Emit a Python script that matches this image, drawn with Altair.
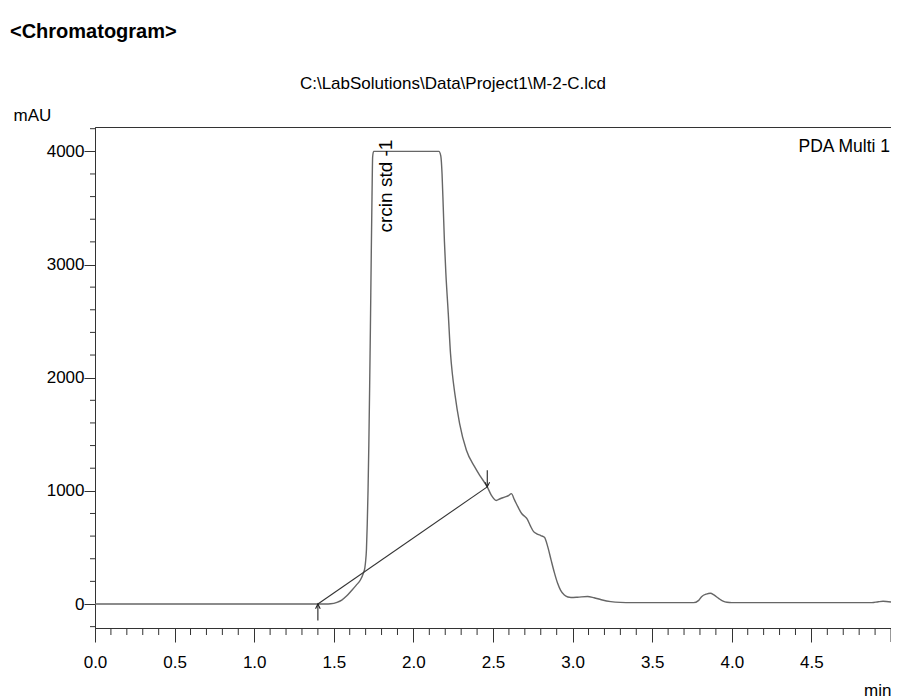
import altair as alt
import pandas as pd

# ---- chromatogram trace (min, mAU) ----
time_min = [0.00, 1.45, 1.48, 1.52, 1.55, 1.58, 1.615, 1.64, 1.667, 1.685, 1.695,
            1.70, 1.705, 1.71, 1.715, 1.72, 1.725, 1.73, 1.735, 1.74, 1.744, 1.75,
            2.16, 2.172, 2.18, 2.1875, 2.195, 2.204, 2.219, 2.233, 2.245, 2.26, 2.29,
            2.333, 2.385, 2.42, 2.464, 2.49, 2.52, 2.545, 2.573, 2.60, 2.615, 2.635,
            2.656, 2.68, 2.698, 2.715, 2.735, 2.755, 2.775, 2.80, 2.823, 2.845, 2.865,
            2.885, 2.906, 2.925, 2.948, 2.97, 2.99, 3.03, 3.094, 3.135, 3.18, 3.24,
            3.30, 3.37, 3.76, 3.79, 3.81, 3.84, 3.865, 3.89, 3.917, 3.945, 3.97, 4.00,
            4.88, 4.92, 4.95, 5.00]
signal_mau = [0, 0, 2, 15, 35, 70, 124, 165, 212, 270, 320,
              380, 480, 700, 1000, 1400, 1900, 2450, 3050, 3600, 3950, 4000,
              4000, 3960, 3800, 3507, 3200, 2920, 2568, 2215, 2030, 1862, 1597,
              1359, 1212, 1130, 1035, 960, 915, 930, 945, 960, 975, 920,
              860, 800, 775, 750, 690, 640, 620, 605, 590, 500, 388,
              280, 183, 120, 79, 62, 58, 60, 66, 55, 38, 21,
              14, 12, 12, 30, 65, 88, 95, 78, 50, 25, 15, 12,
              12, 20, 24, 18]

# ---- integration baseline and peak markers ----
base_x = [1.40]
base_y = [0]
base_x2 = [2.464]
base_y2 = [1035]
start_marker_t = [1.40]
start_marker_low = [-145]
start_marker_high = [0]
end_marker_t = [2.464]
end_marker_high = [1183]
end_marker_low = [1035]

peak_label = ["crcin std -1"]
peak_label_t = [1.825]
peak_label_v = [3283]

# ---- axis ticks ----
x_major = [0.0, 0.5, 1.0, 1.5, 2.0, 2.5, 3.0, 3.5, 4.0, 4.5]
x_minor = [0.1, 0.2, 0.3, 0.4, 0.6, 0.7, 0.8, 0.9, 1.1, 1.2, 1.3, 1.4, 1.6, 1.7,
           1.8, 1.9, 2.1, 2.2, 2.3, 2.4, 2.6, 2.7, 2.8, 2.9, 3.1, 3.2, 3.3, 3.4,
           3.6, 3.7, 3.8, 3.9, 4.1, 4.2, 4.3, 4.4, 4.6, 4.7, 4.8, 4.9]
x_end_tick = [5.0]
y_major = [0, 1000, 2000, 3000, 4000]
y_minor = [-200, 200, 400, 600, 800, 1200, 1400, 1600, 1800, 2200, 2400, 2600,
           2800, 3200, 3400, 3600, 3800, 4200]

FONT = "Liberation Sans Narrow, Arial Narrow, Liberation Sans, Arial, sans-serif"
W, H = 796, 501
TICK = "#333333"

x_scale = alt.Scale(domain=[0, 5.0], nice=False, zero=False)
y_scale = alt.Scale(domain=[-212, 4215], nice=False, zero=False)

x_axis = alt.Axis(
    values=x_major, format=".1f", tickSize=14, tickColor=TICK, domainColor=TICK,
    labelPadding=25, labelBaseline="alphabetic", labelFontSize=17, labelFont=FONT,
    labelColor="black", labelOverlap=False, labelFlush=False, grid=False,
    title="min", titleX=W, titleY=67, titleAlign="right",
    titleBaseline="alphabetic", titleFontWeight="normal", titleFontSize=17,
    titleFont=FONT, titleColor="black",
)
y_axis = alt.Axis(
    values=y_major, format="d", tickSize=11, tickColor=TICK, domainColor=TICK,
    labelPadding=0, labelFontSize=17, labelFont=FONT, labelColor="black",
    labelOverlap=False, labelFlush=False, grid=False,
    title="mAU", titleAngle=0, titleX=-82, titleY=-7, titleAlign="left",
    titleBaseline="alphabetic", titleFontWeight="normal", titleFontSize=17,
    titleFont=FONT, titleColor="black",
)


def X(field):
    return alt.X(field, type="quantitative", scale=x_scale, axis=x_axis)


def Y(field):
    return alt.Y(field, type="quantitative", scale=y_scale, axis=y_axis)


trace_df = pd.DataFrame({"t": time_min, "v": signal_mau})
trace = alt.Chart(trace_df).mark_line(
    color="#666666", strokeWidth=1.4, interpolate="monotone"
).encode(x=X("t"), y=Y("v"))

# minor ticks drawn as short rules through the shared scales
xminor_df = pd.DataFrame({"t": x_minor})
x_minor_ticks = alt.Chart(xminor_df).mark_rule(color=TICK, strokeWidth=1).encode(
    x=X("t"), y=alt.value(H), y2=alt.value(H + 7),
)
xend_df = pd.DataFrame({"t": x_end_tick})
x_end_ticks = alt.Chart(xend_df).mark_rule(color=TICK, strokeWidth=1).encode(
    x=X("t"), y=alt.value(H), y2=alt.value(H + 14),
)
yminor_df = pd.DataFrame({"v": y_minor})
y_minor_ticks = alt.Chart(yminor_df).mark_rule(color=TICK, strokeWidth=1).encode(
    y=Y("v"), x=alt.value(0), x2=alt.value(-5),
)

base_df = pd.DataFrame({"t": base_x, "v": base_y, "t2": base_x2, "v2": base_y2})
baseline = alt.Chart(base_df).mark_rule(color="#333", strokeWidth=1.1).encode(
    x=X("t"), y=Y("v"), x2="t2:Q", y2="v2:Q",
)

start_df = pd.DataFrame({"t": start_marker_t, "lo": start_marker_low, "hi": start_marker_high})
start_rule = alt.Chart(start_df).mark_rule(color="#222", strokeWidth=1.1).encode(
    x=X("t"), y=Y("lo"), y2="hi:Q",
)
start_head = alt.Chart(start_df).mark_point(
    shape="M-1,2L0,0L1,2", filled=False, color="#222", strokeWidth=1.1, size=22, opacity=1
).encode(x=X("t"), y=Y("hi"))

end_df = pd.DataFrame({"t": end_marker_t, "lo": end_marker_low, "hi": end_marker_high})
end_rule = alt.Chart(end_df).mark_rule(color="#222", strokeWidth=1.1).encode(
    x=X("t"), y=Y("lo"), y2="hi:Q",
)
end_head = alt.Chart(end_df).mark_point(
    shape="M-1,-2L0,0L1,-2", filled=False, color="#222", strokeWidth=1.1, size=22, opacity=1
).encode(x=X("t"), y=Y("lo"))

label_df = pd.DataFrame({"t": peak_label_t, "v": peak_label_v, "txt": peak_label})
peak_text = alt.Chart(label_df).mark_text(
    angle=270, align="left", baseline="middle", fontSize=19,
    font="Liberation Sans, Arial, sans-serif", color="black"
).encode(x=X("t"), y=Y("v"), text="txt:N")

one = pd.DataFrame({"k": [0]})
channel_text = alt.Chart(one).mark_text(
    text="PDA Multi 1", align="right", baseline="alphabetic", fontSize=17.5,
    font=FONT, color="black"
).encode(x=alt.value(W - 1), y=alt.value(25))

main_title = alt.Chart(one).mark_text(
    text="<Chromatogram>", align="left", baseline="alphabetic", fontSize=20,
    font=FONT, fontWeight="bold", color="black"
).encode(x=alt.value(-85), y=alt.value(-89))

file_title = alt.Chart(one).mark_text(
    text="C:\\LabSolutions\\Data\\Project1\\M-2-C.lcd", align="center",
    baseline="alphabetic", fontSize=17, font=FONT, color="black"
).encode(x=alt.value(358), y=alt.value(-38))

chart = alt.layer(
    trace, x_minor_ticks, x_end_ticks, y_minor_ticks, baseline, start_rule,
    start_head, end_rule, end_head, peak_text, channel_text, main_title, file_title
).properties(
    width=W, height=H,
    autosize=alt.AutoSizeParams(type="none"),
    padding={"left": 87, "top": 119, "right": 0, "bottom": 72},
    background="white",
).configure_view(
    stroke=TICK, strokeWidth=1
)

chart.save("out.html", embed_options={"renderer": "svg", "actions": False})
